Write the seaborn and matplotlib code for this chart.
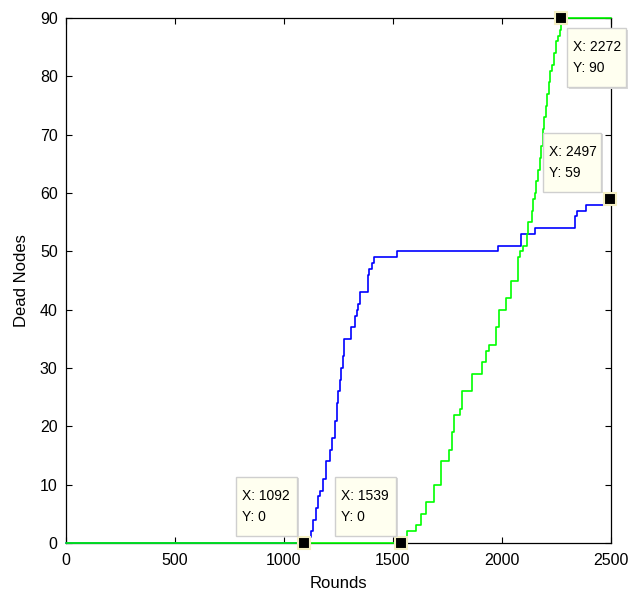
import matplotlib
matplotlib.use("Agg")
import matplotlib.pyplot as plt
from matplotlib.patches import Rectangle
from matplotlib.transforms import IdentityTransform
import seaborn as sns
import pandas as pd

# Cumulative dead nodes per round (step changes)
blue_rounds = [0, 1092, 1110, 1124, 1134, 1147, 1155, 1165, 1180, 1193, 1211, 1219,
               1234, 1242, 1249, 1256, 1262, 1270, 1276, 1307, 1326, 1336, 1341,
               1349, 1386, 1392, 1402, 1412, 1517, 1983, 2086, 2151, 2335, 2342,
               2385, 2497]
blue_dead = [0, 0, 1, 2, 4, 6, 8, 9, 11, 14, 16, 18,
             21, 24, 26, 28, 30, 32, 35, 37, 39, 40, 41,
             43, 46, 47, 48, 49, 50, 51, 53, 54, 56, 57,
             58, 59]

green_rounds = [0, 1539, 1563, 1604, 1628, 1650, 1688, 1719, 1757, 1771, 1781, 1807,
                1817, 1862, 1908, 1925, 1942, 1971, 1986, 2018, 2040, 2073, 2075,
                2083, 2098, 2113, 2121, 2136, 2144, 2150, 2157, 2165, 2172, 2178,
                2186, 2193, 2200, 2207, 2214, 2222, 2230, 2238, 2248, 2258, 2266,
                2272, 2500]
green_dead = [0, 0, 2, 3, 5, 7, 10, 14, 16, 19, 22, 23,
              26, 29, 31, 33, 34, 37, 40, 42, 45, 46, 49,
              50, 51, 53, 55, 57, 59, 60, 62, 64, 66, 68,
              71, 73, 75, 77, 79, 81, 82, 84, 86, 87, 88,
              90, 90]

# Data tips on the curves
tip_x = [1092, 1539, 2272, 2497]
tip_y = [0, 0, 90, 59]

x_ticks = [0, 500, 1000, 1500, 2000, 2500]
y_ticks = [0, 10, 20, 30, 40, 50, 60, 70, 80, 90]

sns.set_theme(style="white")
plt.rcParams["font.family"] = ["Liberation Sans", "DejaVu Sans"]
plt.rcParams["text.color"] = "black"
plt.rcParams["axes.labelcolor"] = "black"

fig = plt.figure(figsize=(6.38, 5.95), dpi=100)
ax = fig.add_axes([0.1034, 0.0874, 0.8543, 0.8823])

blue_df = pd.DataFrame({"Rounds": blue_rounds, "Dead": blue_dead})
green_df = pd.DataFrame({"Rounds": green_rounds, "Dead": green_dead})

sns.lineplot(data=blue_df, x="Rounds", y="Dead", ax=ax, color="#0000ff",
             linewidth=1.2, drawstyle="steps-post", estimator=None,
             clip_on=False, zorder=3)
sns.lineplot(data=green_df, x="Rounds", y="Dead", ax=ax, color="#00ff00",
             linewidth=1.2, drawstyle="steps-post", estimator=None,
             clip_on=False, zorder=4)

ax.set_xlim(0, 2500)
ax.set_ylim(0, 90)
ax.set_xticks(x_ticks)
ax.set_yticks(y_ticks)
ax.set_xticklabels([str(t) for t in x_ticks])
ax.set_yticklabels([str(t) for t in y_ticks])
ax.tick_params(axis="both", direction="in", length=4, width=0.8,
               colors="black", labelsize=11.5, top=True, right=True,
               bottom=True, left=True)
ax.tick_params(axis="x", pad=7)
ax.tick_params(axis="y", pad=6)
for s in ax.spines.values():
    s.set_visible(True)
    s.set_color("black")
    s.set_linewidth(0.9)

ax.set_xlabel("Rounds", fontsize=12, labelpad=6, color="black")
ax.set_ylabel("Dead Nodes", fontsize=12, labelpad=8, color="black")

# Data tip boxes: (left, top, right, bottom) in pixels relative to the marker,
# measured rightwards and downwards
box_offsets = [(-68, -66, -7, -7), (-66, -66, -5, -7),
               (6, 10, 65, 69), (-67, -66, -9, -7)]
ident = IdentityTransform()
for x, y, (x0, y0, x1, y1) in zip(tip_x, tip_y, box_offsets):
    ax.plot([x], [y], marker="s", markersize=8.5, color="black",
            markeredgecolor="#f4efc4", markeredgewidth=1.5,
            clip_on=False, zorder=6, linestyle="none")
    mx, my = ax.transData.transform((x, y))
    left = mx + x0
    top = my - y0
    # drop shadow then box
    fig.add_artist(Rectangle((left + 1.5, top - (y1 - y0) - 1.5), x1 - x0, y1 - y0,
                             transform=ident, facecolor="#d9d9d9",
                             edgecolor="none", zorder=7))
    fig.add_artist(Rectangle((left, top - (y1 - y0)), x1 - x0, y1 - y0,
                             transform=ident, facecolor="#fffff0",
                             edgecolor="#cfcfcf", linewidth=1.0, zorder=8))
    fig.text(left + 6, top - 19, f"X: {x}", transform=ident, fontsize=10,
             color="black", ha="left", va="center", zorder=9)
    fig.text(left + 6, top - 40, f"Y: {y}", transform=ident, fontsize=10,
             color="black", ha="left", va="center", zorder=9)

fig.savefig("out.png", dpi=100, facecolor="white")
